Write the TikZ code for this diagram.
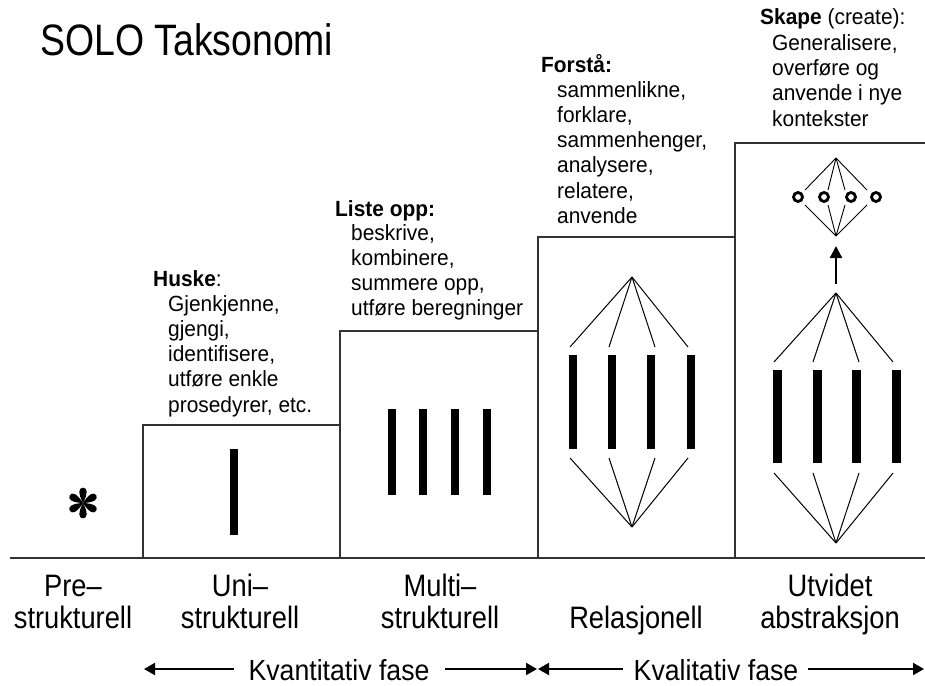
\documentclass[tikz,border=0pt]{standalone}
\usepackage{fontspec}
\setmainfont{Liberation Sans}
\newfontfamily\titlefont[FakeStretch=0.85]{Liberation Sans}
\newfontfamily\labelfont[FakeStretch=0.88]{Liberation Sans}
\newfontfamily\bodyfont[FakeStretch=0.95]{Liberation Sans}
\newfontfamily\phasefont[FakeStretch=0.92]{Liberation Sans}
\usetikzlibrary{arrows.meta}
\begin{document}
\begin{tikzpicture}[x=1pt,y=-1pt,
  box/.style={draw=black!80,line width=1.2pt},
  barfill/.style={fill=black},
  fan/.style={draw=black,line width=1pt},
  txt/.style={inner sep=0,anchor=base west,font=\bodyfont\fontsize{22}{25}\selectfont},
  lbl/.style={inner sep=0,anchor=base,font=\labelfont\fontsize{31}{32}\selectfont},
  phase/.style={inner sep=0,anchor=base,font=\phasefont\fontsize{29}{30}\selectfont},
  phasearrow/.style={line width=2pt,-{Triangle[length=11pt,width=12pt]}},
  ring/.style={draw=black,line width=2.8pt,fill=white,circle,inner sep=0,minimum size=9pt},
]
\useasboundingbox (0,0) rectangle (925,685);
\fill[white] (0,0) rectangle (925,685);

% title
\node[inner sep=0,anchor=base west,font=\titlefont\fontsize{44}{48}\selectfont] (title) at (40,56) {SOLO Taksonomi};

% ground line and boxes
\coordinate (g0) at (10,558);
\coordinate (g1) at (143,558);
\draw[box] (g0) -- (g1);
\draw[box] (143,425) rectangle (340,558);
\draw[box] (340,331) rectangle (538,558);
\draw[box] (538,237) rectangle (735,558);
\draw[box] (930,143) -- (735,143) -- (735,558) -- (930,558);

% pre-structural asterisk
\begin{scope}[shift={(83,503)},scale=1.1]
  \foreach \a in {0,60,...,300}
    \fill[rotate=\a] (0,0) .. controls (1.6,3) and (3.5,7.5) .. (3.3,10.6)
      .. controls (3.3,15) and (-3.3,15) .. (-3.3,10.6)
      .. controls (-3.5,7.5) and (-1.6,3) .. (0,0) -- cycle;
\end{scope}

% uni-structural bar
\fill[barfill] (229.5,449) rectangle (237.5,535);

% multi-structural bars
\foreach \x in {391.5,422.5,454.5,486.5}
  \fill[barfill] (\x-4,409) rectangle (\x+4,495);

% relational
\foreach \x in {573,612,651,691}
  \fill[barfill] (\x-4,355) rectangle (\x+4,449);
\coordinate (rt) at (632,277);
\coordinate (rb) at (632,527);
\foreach \x [count=\i] in {570,609,655,688}{
  \coordinate (rtu\i) at (\x,347);
  \coordinate (rbl\i) at (\x,458);
  \draw[fan] (rt) -- (rtu\i);
  \draw[fan] (rbl\i) -- (rb);
}

% extended abstract
\foreach \x in {777.5,817,856,896}
  \fill[barfill] (\x-4.5,370) rectangle (\x+4.5,463);
\coordinate (et) at (836,293);
\coordinate (eb) at (836,543);
\foreach \x [count=\i] in {774,813,859,893}{
  \coordinate (etu\i) at (\x,362);
  \coordinate (ebl\i) at (\x,473);
  \draw[fan] (et) -- (etu\i);
  \draw[fan] (ebl\i) -- (eb);
}
\coordinate (as) at (836,284);
\coordinate (ae) at (836,246);
\draw[line width=2.2pt,-{Triangle[length=12pt,width=12pt]}] (as) -- (ae);
\coordinate (st) at (836,158);
\coordinate (sb) at (836,236);
\foreach \x [count=\i] in {805,828,845,867}{
  \coordinate (stu\i) at (\x,190);
  \coordinate (sbl\i) at (\x,205);
  \draw[fan,line width=0.9pt] (st) -- (stu\i);
  \draw[fan,line width=0.9pt] (sbl\i) -- (sb);
}
\foreach \x [count=\i] in {798,824,851,876}
  \node[ring] (c\i) at (\x,197) {};

% text blocks
\node[txt] (hu0) at (153,286) {\textbf{Huske}:};
\foreach \t [count=\i] in {Gjenkjenne{,},gjengi{,},identifisere{,},utføre enkle,{prosedyrer, etc.}}
  \node[txt] (hu\i) at (168,286+25.2*\i) {\t};

\node[txt] (li0) at (335,216) {\textbf{Liste opp:}};
\foreach \t [count=\i] in {beskrive{,},kombinere{,},{summere opp,},utføre beregninger}
  \node[txt] (li\i) at (351,216+24.8*\i) {\t};

\node[txt] (fo0) at (541,72) {\textbf{Forstå:}};
\foreach \t [count=\i] in {sammenlikne{,},forklare{,},sammenhenger{,},analysere{,},relatere{,},anvende}
  \node[txt] (fo\i) at (557,72+25.2*\i) {\t};

\node[txt] (sk0) at (760,25) {\textbf{Skape} (create):};
\foreach \t [count=\i] in {Generalisere{,},overføre og,anvende i nye,kontekster}
  \node[txt] (sk\i) at (772,25+25.3*\i) {\t};

% level labels
\node[lbl] (pre1) at (73,596) {Pre–};
\node[lbl] (pre2) at (73,628) {strukturell};
\node[lbl] (uni1) at (240,596) {Uni–};
\node[lbl] (uni2) at (240,628) {strukturell};
\node[lbl] (mul1) at (440,596) {Multi–};
\node[lbl] (mul2) at (440,628) {strukturell};
\node[lbl] (rel) at (636,628) {Relasjonell};
\node[lbl] (utv1) at (830,596) {Utvidet};
\node[lbl] (utv2) at (830,628) {abstraksjon};

% phases
\node[phase] (kvant) at (339,680) {Kvantitativ fase};
\node[phase] (kval) at (716,680) {Kvalitativ fase};
\coordinate (p1a) at (234,669);
\coordinate (p1b) at (144,669);
\coordinate (p2a) at (445,669);
\coordinate (p2b) at (537,669);
\coordinate (p3a) at (623,669);
\coordinate (p3b) at (538,669);
\coordinate (p4a) at (808,669);
\coordinate (p4b) at (924,669);
\draw[phasearrow] (p1a) -- (p1b);
\draw[phasearrow] (p2a) -- (p2b);
\draw[phasearrow] (p3a) -- (p3b);
\draw[phasearrow] (p4a) -- (p4b);
\end{tikzpicture}
\end{document}
